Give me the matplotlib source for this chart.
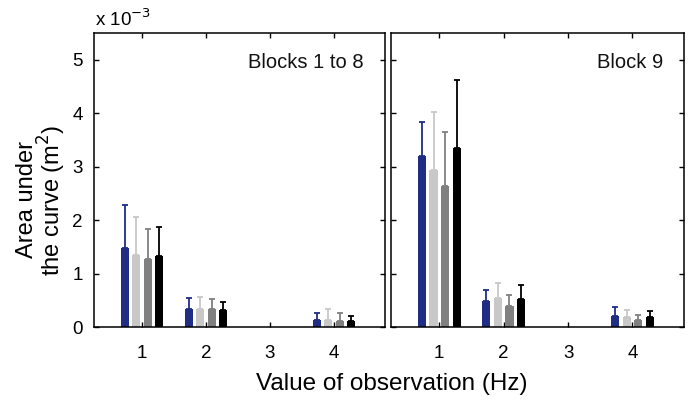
import matplotlib
matplotlib.use("Agg")
import matplotlib.pyplot as plt
import numpy as np

plt.rcParams['font.family'] = ['Liberation Sans', 'DejaVu Sans']

# Observation frequency (Hz) groups
freqs = [1, 2, 3, 4]
series_names = ["S1", "S2", "S3", "S4"]
colors = ["#1f2d85", "#c8c8c8", "#808080", "#000000"]

# Mean area under the curve (x 10^-3 m^2), one list per series, panel "Blocks 1 to 8"
blocks18_mean = [
    [1.47, 0.34, 0.0, 0.13],
    [1.35, 0.33, 0.0, 0.14],
    [1.27, 0.33, 0.0, 0.12],
    [1.33, 0.31, 0.0, 0.11],
]
blocks18_err = [
    [0.81, 0.20, 0.0, 0.14],
    [0.70, 0.24, 0.0, 0.20],
    [0.56, 0.20, 0.0, 0.15],
    [0.55, 0.16, 0.0, 0.10],
]

# Panel "Block 9"
block9_mean = [
    [3.20, 0.48, 0.0, 0.21],
    [2.93, 0.54, 0.0, 0.18],
    [2.63, 0.40, 0.0, 0.13],
    [3.35, 0.52, 0.0, 0.18],
]
block9_err = [
    [0.63, 0.21, 0.0, 0.17],
    [1.10, 0.28, 0.0, 0.13],
    [1.01, 0.19, 0.0, 0.09],
    [1.28, 0.27, 0.0, 0.11],
]

fig = plt.figure(figsize=(6.91, 4.01), dpi=100)
ax1 = fig.add_axes([94 / 691, 74 / 401, 291 / 691, 294 / 401])
ax2 = fig.add_axes([391 / 691, 74 / 401, 293 / 691, 294 / 401])

step = 0.18
width = 0.125
offsets = (np.arange(4) - 1.5) * step
x = np.array(freqs, dtype=float)


def draw_panel(ax, means, errs, title, show_ylabels):
    for i in range(4):
        m = np.array(means[i])
        e = np.array(errs[i])
        keep = m > 0
        xs = x[keep] + offsets[i]
        ax.bar(xs, m[keep], width=width, color=colors[i], zorder=2,
               linewidth=0)
        ax.errorbar(xs, m[keep], yerr=[np.zeros(keep.sum()), e[keep]],
                    fmt='none', ecolor=colors[i], elinewidth=1.3,
                    capsize=2.3, capthick=1.3, zorder=3)
    ax.set_xlim(0.25, 4.8)
    ax.set_ylim(0, 5.5)
    ax.set_xticks(freqs)
    ax.set_yticks([0, 1, 2, 3, 4, 5])
    ax.tick_params(direction='in', length=3.5, width=1.0, top=True,
                   right=True, labelsize=13.5)
    ax.tick_params(axis='x', pad=13)
    ax.tick_params(axis='y', pad=8)
    if not show_ylabels:
        ax.set_yticklabels([])
    for sp in ax.spines.values():
        sp.set_linewidth(1.1)
    ax.text(1 - 21 / 291, 1 - 29 / 294, title, transform=ax.transAxes,
            ha='right', va='center', fontsize=14.5, color='#111111')


draw_panel(ax1, blocks18_mean, blocks18_err, "Blocks 1 to 8", True)
draw_panel(ax2, block9_mean, block9_err, "Block 9", False)

fig.text(95 / 691, 1 - 26 / 401, r"x 10$^{-3}$", ha='left', va='baseline',
         fontsize=13.5)
fig.text(42 / 691, 1 - 200 / 401, "Area under\nthe curve (m$^2$)",
         rotation=90, ha='center', va='center', multialignment='center',
         fontsize=17, linespacing=0.95)
fig.text(392 / 691, 1 - 384 / 401, "Value of observation (Hz)",
         ha='center', va='center', fontsize=17.5)

fig.savefig("out.png", dpi=100)
